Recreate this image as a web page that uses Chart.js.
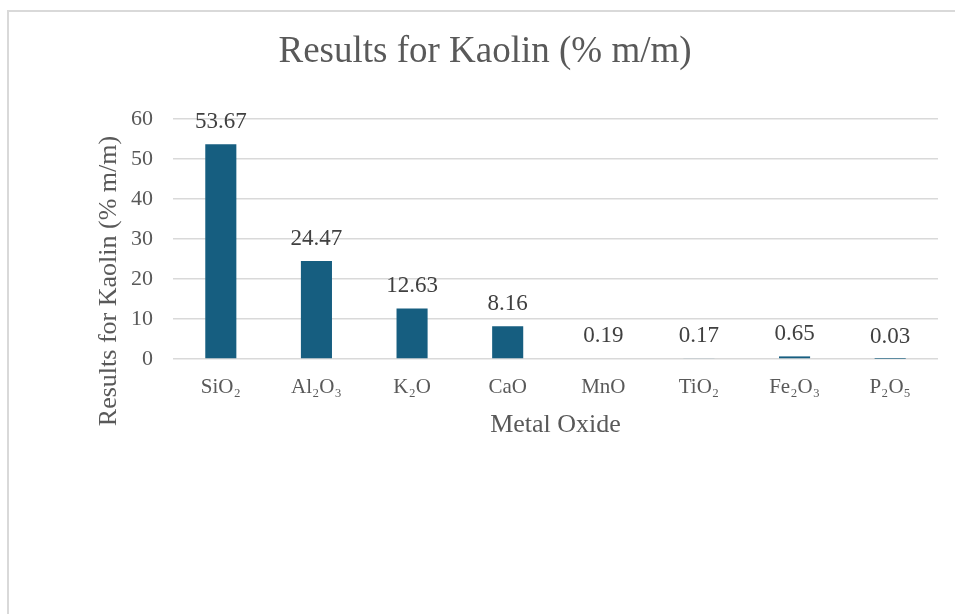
<!DOCTYPE html>
<html>
<head>
<meta charset="utf-8">
<title>Results for Kaolin</title>
<script src="https://cdn.jsdelivr.net/npm/chart.js@4/dist/chart.umd.min.js"></script>
<style>
  html, body { margin: 0; padding: 0; background: #ffffff; overflow: hidden; }
  #wrap { position: relative; width: 955px; height: 614px; overflow: hidden; }
  #frame {
    position: absolute; left: 7px; top: 10px; width: 1000px; height: 700px;
    border-left: 2px solid #d9d9d9; border-top: 2px solid #d9d9d9;
    box-sizing: border-box; pointer-events: none;
  }
  canvas { position: absolute; left: 0; top: 0; }
</style>
</head>
<body>
<div id="wrap">
  <div id="frame"></div>
  <canvas id="chart" width="955" height="614"></canvas>
</div>
<script>
// Oxide composition of kaolin, % m/m
const oxides = ['SiO₂', 'Al₂O₃', 'K₂O', 'CaO', 'MnO', 'TiO₂', 'Fe₂O₃', 'P₂O₅'];
const results = [53.67, 24.47, 12.63, 8.16, 0.19, 0.17, 0.65, 0.03];
const yTicks = [0, 10, 20, 30, 40, 50, 60];

const chartTitle = 'Results for Kaolin (% m/m)';
const xTitle = 'Metal Oxide';
const yTitle = 'Results for Kaolin (% m/m)';

const SERIF = "'Liberation Serif', 'Times New Roman', 'DejaVu Serif', serif";
const BAR_COLOR = '#165e80';
const TEXT_GREY = '#595959';
const LABEL_GREY = '#404040';

// Value labels above each bar
const valueLabels = {
  id: 'valueLabels',
  afterDatasetsDraw(chart) {
    const ctx = chart.ctx;
    const meta = chart.getDatasetMeta(0);
    const data = chart.data.datasets[0].data;
    ctx.save();
    ctx.font = '23px ' + SERIF;
    ctx.fillStyle = LABEL_GREY;
    ctx.textAlign = 'center';
    ctx.textBaseline = 'alphabetic';
    meta.data.forEach((bar, i) => {
      ctx.fillText(data[i].toFixed(2), bar.x, bar.y - 16);
    });
    ctx.restore();
  }
};

// Vertical axis title, set a little below the middle of the plot
const sideTitle = {
  id: 'sideTitle',
  afterDraw(chart) {
    const ctx = chart.ctx;
    const area = chart.chartArea;
    ctx.save();
    ctx.translate(109, (area.top + area.bottom) / 2 + 42);
    ctx.rotate(-Math.PI / 2);
    ctx.font = '26px ' + SERIF;
    ctx.fillStyle = TEXT_GREY;
    ctx.textAlign = 'center';
    ctx.textBaseline = 'middle';
    ctx.fillText(yTitle, 0, 0);
    ctx.restore();
  }
};

new Chart(document.getElementById('chart'), {
  type: 'bar',
  data: {
    labels: oxides,
    datasets: [{
      data: results,
      backgroundColor: BAR_COLOR,
      borderWidth: 0,
      barPercentage: 0.325,
      categoryPercentage: 1
    }]
  },
  options: {
    responsive: false,
    animation: false,
    devicePixelRatio: 1,
    layout: { padding: { left: 32, right: 17, top: 0, bottom: 0 } },
    plugins: {
      legend: { display: false },
      tooltip: { enabled: false },
      title: {
        display: true,
        text: chartTitle,
        color: TEXT_GREY,
        font: { family: SERIF, size: 37, weight: 'normal' },
        padding: { top: 30, bottom: 44.6 }
      }
    },
    scales: {
      x: {
        grid: { display: false, drawTicks: false },
        border: { display: false },
        ticks: {
          color: TEXT_GREY,
          font: { family: SERIF, size: 21 },
          padding: 16,
          maxRotation: 0,
          autoSkip: false
        },
        title: {
          display: true,
          text: xTitle,
          color: TEXT_GREY,
          font: { family: SERIF, size: 26 },
          padding: { top: 0, bottom: 173 }
        },
        afterFit(scale) { scale.height = 255; }
      },
      y: {
        min: 0,
        max: 60,
        afterBuildTicks(scale) { scale.ticks = yTicks.map(v => ({ value: v })); },
        grid: { color: '#d9d9d9', lineWidth: 1.5, drawTicks: false },
        border: { display: false },
        ticks: {
          color: TEXT_GREY,
          font: { family: SERIF, size: 22 },
          padding: 20
        },
        afterFit(scale) { scale.width = 141; }
      }
    }
  },
  plugins: [valueLabels, sideTitle]
});
</script>
</body>
</html>
